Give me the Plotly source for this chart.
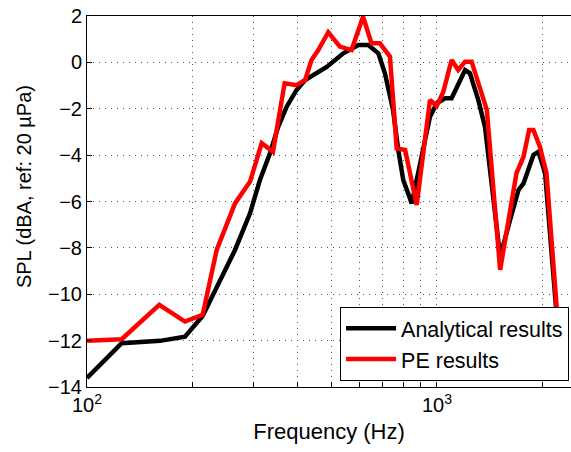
import plotly.graph_objects as go
import numpy as np

# Analytical results
freq_analytical = [100, 125.6, 161.7, 190.5, 214, 240, 264.8, 292.3, 312, 333.3, 352, 372, 397, 420, 484,
                   540, 596, 636, 680, 710, 749, 775, 801, 847, 894, 955, 998, 1054, 1101, 1203, 1242,
                   1312, 1371, 1515, 1617, 1710, 1767, 1886, 1949, 2037, 2197]
spl_analytical = [-13.61, -12.11, -12.01, -11.83, -10.94, -9.38, -8.09, -6.51, -5.07, -3.92, -2.77, -1.91,
                  -1.19, -0.76, -0.2, 0.39, 0.75, 0.75, 0.39, -0.47, -2.05, -3.78, -5.07, -6.08, -4.34, -2.34,
                  -1.77, -1.55, -1.55, -0.33, -0.47, -1.62, -2.77, -8.38, -6.8, -5.5, -5.22, -3.99, -3.85,
                  -4.78, -10.89]

# PE results
freq_pe = [100, 125.6, 160.9, 190.5, 214, 234.7, 264.8, 292.3, 315.6, 340, 367, 397, 420, 438, 458,
           489, 528, 570, 615, 650, 687, 734, 767, 811, 847, 875, 955, 998, 1043, 1101, 1150, 1203,
           1256, 1312, 1388, 1515, 1617, 1687, 1767, 1833, 1886, 1968, 2055, 2206]
spl_pe = [-12.01, -11.94, -10.46, -11.18, -10.89, -8.09, -6.08, -5.14, -3.49, -3.85, -0.9, -0.98, -0.76,
          0.1, 0.53, 1.3, 0.68, 0.53, 1.97, 0.82, 0.82, 0.25, -3.71, -3.78, -5.14, -6.15, -1.62, -1.88,
          -1.26, 0.1, -0.33, 0.03, 0.03, -0.9, -2.05, -8.95, -6.51, -4.78, -4.07, -2.92, -2.92, -3.64,
          -4.78, -10.89]

x_tickvals = [100, 200, 300, 400, 500, 600, 700, 800, 900, 1000, 2000]
x_ticktext = ["10<sup>2</sup>", "", "", "", "", "", "", "", "", "10<sup>3</sup>", ""]
y_tickvals = [-14, -12, -10, -8, -6, -4, -2, 0, 2]
y_ticktext = ["\u221214", "\u221212", "\u221210", "\u22128", "\u22126", "\u22124", "\u22122", "0", "2"]

FONT = "Liberation Sans, Arial, sans-serif"

fig = go.Figure()
fig.add_trace(go.Scatter(x=freq_analytical, y=spl_analytical, mode="lines", name="Analytical results",
                         line=dict(color="black", width=4.5)))
fig.add_trace(go.Scatter(x=freq_pe, y=spl_pe, mode="lines", name="PE results",
                         line=dict(color="#ff0000", width=4.5)))

fig.update_layout(
    width=571, height=452,
    margin=dict(l=87, r=0, t=16, b=65),
    paper_bgcolor="white", plot_bgcolor="white",
    font=dict(family=FONT, size=20, color="black"),
    showlegend=True,
    legend=dict(x=0.996, y=0.017, xanchor="right", yanchor="bottom",
                bgcolor="white", bordercolor="black", borderwidth=1,
                font=dict(size=21.5), itemwidth=50, tracegroupgap=0),
    annotations=[dict(text="SPL (dBA, ref: 20 \u00b5Pa)", textangle=-90,
                      xref="paper", yref="paper", x=-0.130, y=0.539,
                      xanchor="center", yanchor="middle", showarrow=False,
                      font=dict(size=20))],
)
fig.update_xaxes(
    type="log", range=[2, np.log10(2415)], automargin=False,
    tickvals=x_tickvals, ticktext=x_ticktext, tickfont=dict(size=20),
    ticks="inside", ticklen=5, tickcolor="black",
    showline=True, linecolor="black", linewidth=1, mirror=True,
    showgrid=True, gridcolor="#555555", gridwidth=1, griddash="1px,5px",
    zeroline=False,
    title=dict(text="Frequency (Hz)", standoff=8, font=dict(size=22)),
)
fig.update_yaxes(
    range=[-14, 2], automargin=False, ticklabeloverflow="allow",
    tickvals=y_tickvals, ticktext=y_ticktext, tickfont=dict(size=20),
    ticks="inside", ticklen=5, tickcolor="black",
    showline=True, linecolor="black", linewidth=1,
    showgrid=True, gridcolor="#555555", gridwidth=1, griddash="1px,5px",
    zeroline=False,
)

fig.write_html("out.html", config={"displayModeBar": False},
               post_script="document.body.style.margin='0';")
